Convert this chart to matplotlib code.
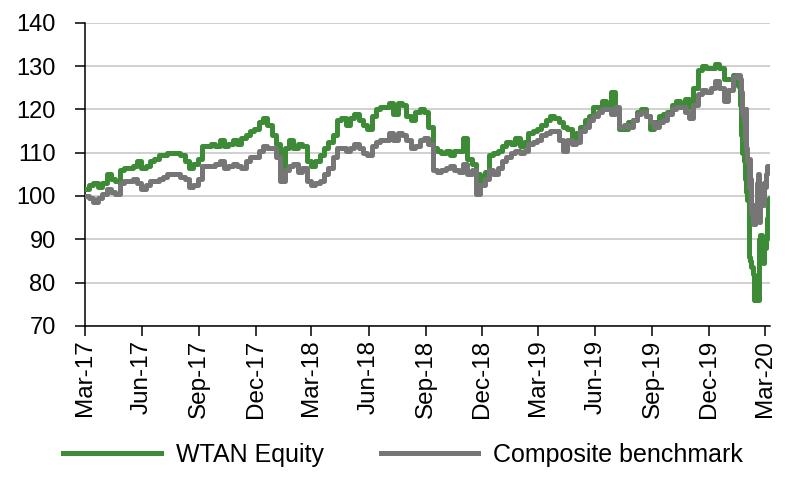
import matplotlib
matplotlib.use("Agg")
import matplotlib.pyplot as plt
import matplotlib.dates as mdates
import pandas as pd

plt.rcParams['font.family'] = ['Liberation Sans', 'DejaVu Sans']

# weekly readings from 2017-03-01, then business days to the end
wtan_weekly = [
    101.5, 102.5, 103, 102, 103, 105, 104, 103.5, 106, 106.5,
    106.5, 107, 108, 106.5, 107, 108, 108.5, 109.5, 109.5, 110,
    110, 110, 109.5, 108, 106.5, 107.5, 108.5, 111.5, 111.5, 112,
    111.5, 113, 111.5, 112, 113, 112, 113.5, 114, 115, 115.5,
    117, 118, 116.5, 114, 112, 106.5, 111, 113, 111, 112,
    111.5, 108, 107, 108, 109.5, 111, 112.5, 114, 117.5, 118,
    116.5, 118, 119, 117.5, 116.5, 115.5, 118.5, 120, 120.5, 120.5,
    121.5, 119, 121.5, 121, 118.5, 117.5, 119.5, 120, 119.5, 116,
    111, 110.5, 110, 110.5, 109.5, 110.5, 110.5, 113.5, 108.5, 107.5,
    105, 103.5, 105.5, 109.5, 110, 110.5, 111.5, 112.5, 112, 113.5,
    111.5, 112.5, 114.5, 115, 115.5, 116.5, 117.5, 118.5, 118, 117,
    116, 115.5, 113.5, 114.5, 116, 117.5, 118.5, 120.5, 120.5, 122,
    120, 124, 120, 115.5, 115.5, 117, 117.5, 119.5, 120, 118.5,
    115.5, 117, 118.5, 119, 119.5, 121, 122, 121.5, 122.5, 120.5,
    125, 129, 130, 129.5, 129.5, 130.5, 129.5, 127, 127, 128,
    126.5,
]
bench_weekly = [
    100, 99.5, 98.5, 99.5, 100.5, 101.5, 101, 100.5, 103, 103.5,
    103.5, 104, 103, 101.5, 102.5, 103.5, 103.5, 104, 104.5, 105,
    105, 105, 104.5, 104, 102, 102.5, 104, 107, 107, 107,
    107.5, 108, 106.5, 107, 107.5, 107, 106.5, 108, 109, 109,
    110.5, 111.5, 111, 111, 109, 103.5, 106, 107, 107.5, 105.5,
    106.5, 103.5, 102.5, 103, 103.5, 105, 106.5, 109, 111, 111,
    110.5, 111, 112, 111, 110, 109.5, 111.5, 112.5, 113, 113,
    114.5, 113, 114.5, 114, 113, 111, 111.5, 113, 113.5, 112,
    106, 105.5, 106, 106.5, 107, 106, 105.5, 107.5, 105, 106,
    100.5, 102.5, 104, 106, 105, 106.5, 108, 109, 110, 110.5,
    110, 110.5, 112, 112.5, 113, 114, 114.5, 115, 115, 113,
    110.5, 113, 112, 112.5, 115, 116, 117.5, 118.5, 119.5, 120,
    120, 119, 120.5, 116, 116.5, 116, 117.5, 119, 119.5, 118.5,
    117, 116, 117, 117.5, 119, 120, 120.5, 120.5, 119.5, 118,
    121, 123.5, 124.5, 124, 125, 126.5, 125, 122, 124.5, 127.5,
    128,
]
wtan_daily = [
    126.5, 125.5, 121, 118, 114, 111, 110, 108, 104, 102.5,
    101, 99, 89, 86, 85, 84, 83.5, 82, 78, 76,
    76.5, 76, 78, 76, 82, 90, 91, 87, 85, 84.5,
    86, 88, 90, 92, 95, 99, 99.5, 97,
]
bench_daily = [
    127.5, 128, 127, 125.5, 124, 121, 119, 117, 113, 120,
    111, 108, 102, 108.5, 104, 100, 96, 93.5, 98, 96,
    93.5, 97, 103, 105, 99, 94, 98, 101, 100, 98,
    103, 102, 105, 106.5, 107, 106.5, 107, 107,
]

weekly_dates = pd.date_range('2017-03-01', periods=len(wtan_weekly), freq='7D')
daily_dates = pd.bdate_range('2020-01-16', periods=len(wtan_daily))
dates = weekly_dates.append(daily_dates)
wtan = wtan_weekly + wtan_daily
bench = bench_weekly + bench_daily

tick_dates = pd.date_range('2017-03-01', '2020-03-01', freq='3MS')

fig = plt.figure(figsize=(8, 4.87), dpi=100)
ax = fig.add_axes([0.106, 0.331, 0.857, 0.622])

ax.plot(dates, wtan, color='#3d8b37', lw=3.6, drawstyle='steps-post',
        label='WTAN Equity', zorder=3)
ax.plot(dates, bench, color='#767676', lw=3.6, drawstyle='steps-post',
        label='Composite benchmark', zorder=4)

ax.set_ylim(70, 140)
ax.set_yticks(range(70, 141, 10))
ax.set_xlim(pd.Timestamp('2017-03-01'), pd.Timestamp('2020-03-09'))
ax.set_xticks(tick_dates)
ax.xaxis.set_major_formatter(mdates.DateFormatter('%b-%y'))

ax.grid(axis='y', color='#c8c8c8', lw=1.2)
ax.set_axisbelow(True)
for s in ['top', 'right']:
    ax.spines[s].set_visible(False)
for s in ['left', 'bottom']:
    ax.spines[s].set_color('black')
    ax.spines[s].set_linewidth(1.1)

ax.tick_params(axis='y', labelsize=17, length=7, width=1.1, pad=14)
ax.tick_params(axis='x', labelsize=17.5, length=7, width=1.1, pad=3,
               labelrotation=90)

fig.legend(loc='center', bbox_to_anchor=(0.504, 0.066), ncol=2,
           frameon=False, fontsize=18, handlelength=3.9,
           handletextpad=0.6, columnspacing=2.3)

fig.savefig('out.png', dpi=100)
